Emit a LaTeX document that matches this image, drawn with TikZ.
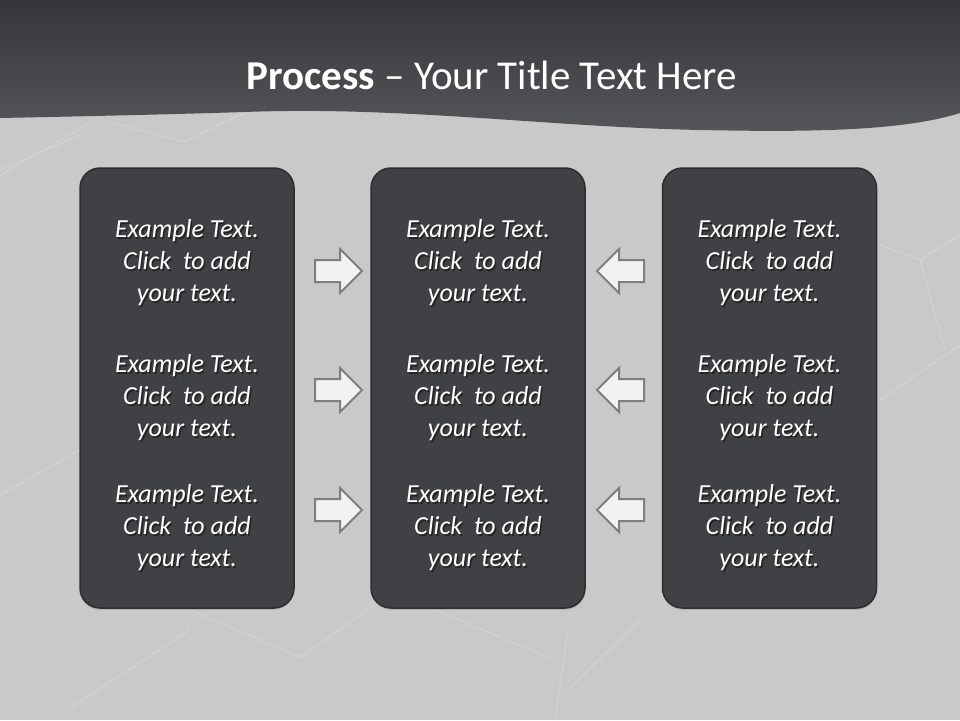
\documentclass[tikz,border=0pt]{standalone}
\usepackage{fontspec}
\setmainfont{Carlito}
\usetikzlibrary{shapes.arrows,shadows}

\definecolor{bgcolor}{HTML}{C9C9C9}
\definecolor{bgline}{HTML}{D3D3D3}
\definecolor{headtop}{HTML}{35363A}
\definecolor{headbot}{HTML}{55565A}
\definecolor{panelcolor}{HTML}{404144}
\definecolor{panelline}{HTML}{2C2D2F}
\definecolor{arrowfill}{HTML}{F2F2F2}
\definecolor{arrowline}{HTML}{7F7F7F}

\tikzset{
    panel/.style = {
        draw=panelline,
        line width=1.5pt,
        fill=panelcolor,
        rounded corners=20pt,
        minimum width=214pt,
        minimum height=440pt,
        inner sep=0,
        drop shadow={opacity=0.25, shadow xshift=0pt, shadow yshift=-2pt},
    },
    item text/.style = {
        align=center,
        text=white,
        font=\fontsize{26}{32}\selectfont\itshape,
        inner sep=0,
    },
    item shadow/.style = {
        item text,
        text=black,
        opacity=0.45,
        xshift=1.5pt,
        yshift=-2pt,
    },
    block arrow/.style = {
        single arrow,
        draw=arrowline,
        line width=2pt,
        fill=arrowfill,
        minimum height=47pt,
        inner xsep=0,
        inner ysep=10pt,
        single arrow head extend=11pt,
        anchor=tail,
    },
    bg line/.style = {
        draw=bgline,
        line width=1.2pt,
    },
}
\def\itemtext{Example Text.\\Click~ to add\\your text.}

\begin{document}
\begin{tikzpicture}[x=1pt, y=-1pt]
    \useasboundingbox (0,0) rectangle (960,720);

    % background
    \fill[bgcolor] (0,0) rectangle (960,720);
    \draw[bg line] (0,175) -- (90,123);
    \draw[bg line] (110,122) -- (185,142) -- (245,112);
    \draw[bg line] (0,170) -- (80,135);
    \draw[bg line] (0,495) -- (80,450);
    \draw[bg line] (880,245) -- (920,260) -- (960,235);
    \draw[bg line] (920,260) -- (945,350);
    \draw[bg line] (880,400) -- (960,345);
    \draw[bg line] (190,610) -- (300,657) -- (375,605);
    \draw[bg line] (190,630) -- (70,708);
    \draw[bg line] (435,610) -- (555,660);
    \draw[bg line] (568,630) -- (555,720);
    \draw[bg line] (640,620) -- (568,690);

    % header band
    \shade[top color=headtop, bottom color=headbot]
        (0,0) -- (960,0) -- (960,113)
        .. controls (900,132) and (800,132) .. (700,130)
        .. controls (550,127) and (400,106) .. (245,112)
        .. controls (150,115) and (50,117) .. (0,118) -- cycle;
    \node[text=white, font=\fontsize{41}{46}\selectfont, inner sep=0] (title) at (492,75)
        {\textbf{Process} -- Your Title Text Here};

    % panels
    \foreach \x/\name in {187/left, 478/middle, 769.5/right} {
        \node[panel] (\name) at (\x,388) {};
        \foreach \y [count=\n] in {263,398,528} {
            \node[item shadow] at (\x,\y) {\itemtext};
            \node[item text] (\name\n) at (\x,\y) {\itemtext};
        }
    }

    % arrows
    \foreach \y [count=\n] in {271,390,510} {
        \node[block arrow] (ra\n) at (314,\y) {};
        \node[block arrow, shape border rotate=180] (la\n) at (645,\y) {};
    }

\end{tikzpicture}
\end{document}
